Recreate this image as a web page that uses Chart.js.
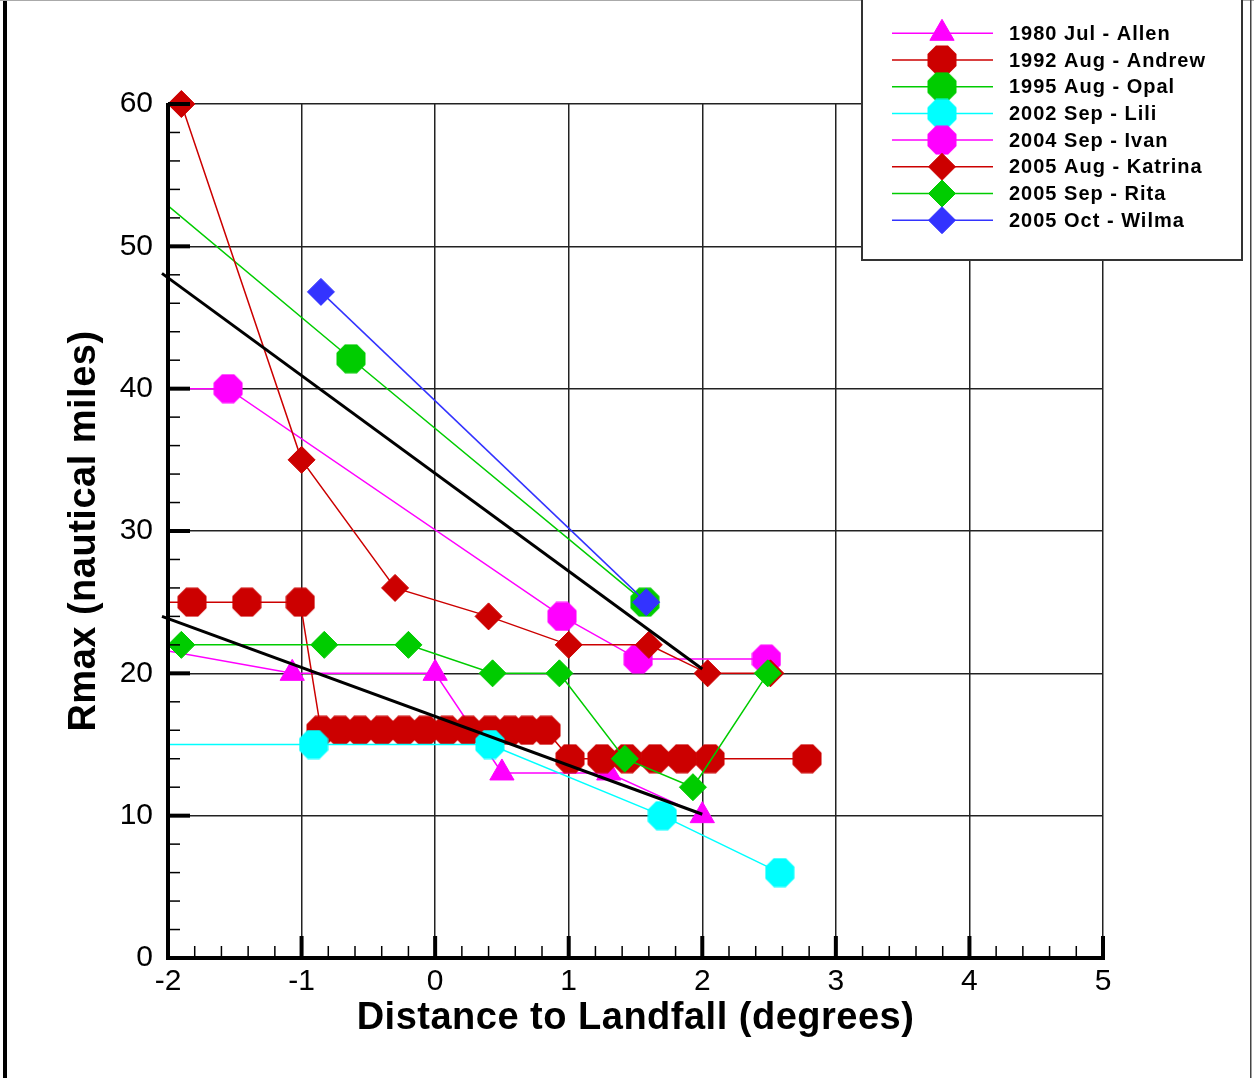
<!DOCTYPE html>
<html>
<head>
<meta charset="utf-8">
<script src="https://cdn.jsdelivr.net/npm/chart.js@4.4.1/dist/chart.umd.min.js"></script>
<style>
  html, body { margin: 0; padding: 0; background: #fff; }
  canvas { display: block; }
</style>
</head>
<body>
<canvas id="c" width="1254" height="1078"></canvas>
<script>
// Axis tick labels
const xTicks = [-2, -1, 0, 1, 2, 3, 4, 5];
const yTicks = [0, 10, 20, 30, 40, 50, 60];

// Radius of maximum winds vs. distance to landfall (degrees); points left of -2 lie off-axis
const allenX   = [-2.2, -1.07, 0, 0.5, 1.3, 2.0];
const allenY   = [21.9, 20, 20, 13, 13, 10];

const andrewX  = [-2.3, -1.82, -1.41, -1.01,
                  -0.855, -0.712, -0.563, -0.398, -0.233, -0.076, 0.089, 0.246, 0.411, 0.560, 0.688, 0.830,
                  1.010, 1.249, 1.436, 1.646, 1.848, 2.058, 2.784];
const andrewY  = [25, 25, 25, 25,
                  16, 16, 16, 16, 16, 16, 16, 16, 16, 16, 16, 16,
                  14, 14, 14, 14, 14, 14, 14];

const opalX    = [-2.3, -0.63, 1.57];
const opalY    = [55.2, 42.1, 25];

const liliX    = [-2.3, -0.91, 0.41, 1.70, 2.58];
const liliY    = [15, 15, 15, 10, 6];

const ivanX    = [-2.3, -1.55, 0.95, 1.52, 2.48];
const ivanY    = [40, 40, 24, 21, 21];

const katrinaX = [-1.9, -1.0, -0.3, 0.4, 1.0, 1.6, 2.04, 2.51];
const katrinaY = [60, 35, 26, 24, 22, 22, 20, 20];

const ritaX    = [-1.9, -0.83, -0.2, 0.43, 0.93, 1.42, 1.93, 2.49];
const ritaY    = [22, 22, 22, 20, 20, 14, 12, 20];

const wilmaX   = [-0.855, 1.58];
const wilmaY   = [46.8, 25];

// Linear fits through the upper and lower groups
const fitUpperX = [-2.045, 2.0];
const fitUpperY = [48.1, 20.3];
const fitLowerX = [-2.045, 2.0];
const fitLowerY = [24.0, 10.1];

const FONT = '"Liberation Sans", Arial, Helvetica, sans-serif';

function octagon(color, d) {
  const size = d + 1;
  const c = document.createElement('canvas');
  c.width = size; c.height = size;
  const g = c.getContext('2d');
  const cx = size / 2, r = (d / 2) / Math.cos(Math.PI / 8);
  g.beginPath();
  for (let k = 0; k < 8; k++) {
    const a = Math.PI / 8 + k * Math.PI / 4;
    g.lineTo(cx + r * Math.cos(a), cx + r * Math.sin(a));
  }
  g.closePath();
  g.fillStyle = color;
  g.fill();
  return c;
}

function pts(xs, ys) { return xs.map((x, i) => ({ x: x, y: ys[i] })); }

function series(label, xs, ys, color, marker, order) {
  let style, radius;
  if (marker === 'oct') { style = octagon(color, 29); radius = 14.5; }
  else if (marker === 'dia') { style = 'rectRot'; radius = 13.5; }
  else { style = 'triangle'; radius = 14; }
  return {
    label: label,
    data: pts(xs, ys),
    borderColor: color,
    backgroundColor: color,
    borderWidth: 1.5,
    pointStyle: style,
    pointRadius: radius,
    pointBorderWidth: marker === 'oct' ? 0 : 1,
    pointBorderColor: color,
    pointBackgroundColor: color,
    tension: 0,
    order: order,
    clip: { left: 0, top: 20, right: 20, bottom: 20 },
    showInLegend: true
  };
}

function fitLine(xs, ys) {
  return {
    label: 'fit',
    data: pts(xs, ys),
    borderColor: '#000',
    borderWidth: 3,
    pointRadius: 0,
    tension: 0,
    order: 0,
    clip: false,
    showInLegend: false
  };
}

const datasets = [
  series('1980 Jul - Allen',    allenX,   allenY,   '#ff00ff', 'tri', 8),
  series('1992 Aug - Andrew',   andrewX,  andrewY,  '#cc0000', 'oct', 7),
  series('1995 Aug - Opal',     opalX,    opalY,    '#00cc00', 'oct', 6),
  series('2002 Sep - Lili',     liliX,    liliY,    '#00ffff', 'oct', 5),
  series('2004 Sep - Ivan',     ivanX,    ivanY,    '#ff00ff', 'oct', 4),
  series('2005 Aug - Katrina',  katrinaX, katrinaY, '#cc0000', 'dia', 3),
  series('2005 Sep - Rita',     ritaX,    ritaY,    '#00cc00', 'dia', 2),
  series('2005 Oct - Wilma',    wilmaX,   wilmaY,   '#3333ff', 'dia', 1),
  fitLine(fitUpperX, fitUpperY),
  fitLine(fitLowerX, fitLowerY)
];

function drawMarker(ctx, ds, x, y) {
  ctx.save();
  ctx.fillStyle = ds.pointBackgroundColor;
  ctx.strokeStyle = ds.pointBorderColor;
  ctx.lineWidth = ds.pointBorderWidth;
  Chart.helpers.drawPoint(ctx, {
    pointStyle: ds.pointStyle,
    radius: ds.pointRadius,
    borderWidth: ds.pointBorderWidth,
    rotation: 0
  }, x, y);
  ctx.restore();
}

// Outer frame of the figure
const framePlugin = {
  id: 'frame',
  beforeDraw(chart) {
    const ctx = chart.ctx;
    ctx.save();
    ctx.fillStyle = '#fff';
    ctx.fillRect(0, 0, chart.width, chart.height);
    ctx.fillStyle = '#000';
    ctx.fillRect(3, 0, 4, chart.height);
    ctx.fillStyle = '#aaa';
    ctx.fillRect(0, 0, chart.width, 1);
    ctx.fillStyle = '#444';
    ctx.fillRect(1250, 0, 1.5, chart.height);
    ctx.restore();
  }
};

// Thick axis lines with inward major and minor ticks
const axisPlugin = {
  id: 'axisDecor',
  afterDatasetsDraw(chart) {
    const { ctx, chartArea: a, scales: { x, y } } = chart;
    ctx.save();
    ctx.strokeStyle = '#000';
    ctx.lineCap = 'butt';
    for (let i = 0; i <= 35; i++) {
      const px = x.getPixelForValue(-2 + i * 0.2);
      const major = i % 5 === 0;
      ctx.lineWidth = major ? 4 : 1.5;
      ctx.beginPath();
      ctx.moveTo(px, a.bottom);
      ctx.lineTo(px, a.bottom - (major ? 22 : 12));
      ctx.stroke();
    }
    for (let i = 0; i <= 30; i++) {
      const py = y.getPixelForValue(i * 2);
      const major = i % 5 === 0;
      ctx.lineWidth = major ? 4 : 1.5;
      ctx.beginPath();
      ctx.moveTo(a.left, py);
      ctx.lineTo(a.left + (major ? 22 : 12), py);
      ctx.stroke();
    }
    ctx.lineWidth = 4;
    ctx.beginPath();
    ctx.moveTo(a.left, a.top - 1);
    ctx.lineTo(a.left, a.bottom + 2);
    ctx.moveTo(a.left - 2, a.bottom);
    ctx.lineTo(a.right + 2, a.bottom);
    ctx.stroke();
    ctx.restore();
  }
};

// Axis titles
const titlePlugin = {
  id: 'axisTitles',
  afterDraw(chart) {
    const { ctx, chartArea: a } = chart;
    ctx.save();
    ctx.fillStyle = '#000';
    ctx.font = 'bold 38px ' + FONT;
    ctx.letterSpacing = '0.5px';
    ctx.textAlign = 'center';
    ctx.textBaseline = 'alphabetic';
    ctx.fillText('Distance to Landfall (degrees)', (a.left + a.right) / 2, 1029);
    ctx.translate(95, (a.top + a.bottom) / 2);
    ctx.rotate(-Math.PI / 2);
    ctx.fillText('Rmax (nautical miles)', 0, 0);
    ctx.restore();
  }
};

// Boxed legend in the upper right corner
const legendPlugin = {
  id: 'boxLegend',
  afterDraw(chart) {
    const ctx = chart.ctx;
    const items = chart.data.datasets.filter(d => d.showInLegend);
    ctx.save();
    ctx.fillStyle = '#fff';
    ctx.fillRect(862, 0, 380, 260);
    ctx.strokeStyle = '#333';
    ctx.lineWidth = 2;
    ctx.strokeRect(862, -2, 380, 262);
    ctx.font = 'bold 20px ' + FONT;
    ctx.letterSpacing = '1px';
    ctx.textAlign = 'left';
    ctx.textBaseline = 'middle';
    items.forEach((ds, i) => {
      const ry = 33.3 + i * 26.7;
      ctx.strokeStyle = ds.borderColor;
      ctx.lineWidth = 1.5;
      ctx.beginPath();
      ctx.moveTo(892, ry);
      ctx.lineTo(993, ry);
      ctx.stroke();
      drawMarker(ctx, ds, 942, ry);
      ctx.fillStyle = '#000';
      ctx.fillText(ds.label, 1009, ry + 1);
    });
    ctx.restore();
  }
};

new Chart(document.getElementById('c'), {
  type: 'line',
  data: { datasets: datasets },
  options: {
    responsive: false,
    animation: false,
    events: [],
    devicePixelRatio: 1,
    layout: { padding: { top: 104, right: 151, left: 0, bottom: 0 } },
    plugins: { legend: { display: false }, tooltip: { enabled: false } },
    scales: {
      x: {
        type: 'linear',
        min: -2, max: 5,
        afterBuildTicks: s => { s.ticks = xTicks.map(v => ({ value: v })); },
        afterFit: s => { s.height = 120; },
        ticks: { font: { family: FONT, size: 30 }, color: '#000', padding: 6, maxRotation: 0, autoSkip: false },
        grid: { color: '#222', lineWidth: 1.5, drawTicks: false },
        border: { display: false }
      },
      y: {
        type: 'linear',
        min: 0, max: 60,
        afterBuildTicks: s => { s.ticks = yTicks.map(v => ({ value: v })); },
        afterFit: s => { s.width = 168; },
        ticks: { font: { family: FONT, size: 30 }, color: '#000', padding: 15, autoSkip: false },
        grid: { color: '#222', lineWidth: 1.5, drawTicks: false },
        border: { display: false }
      }
    }
  },
  plugins: [framePlugin, axisPlugin, titlePlugin, legendPlugin]
});
</script>
</body>
</html>
